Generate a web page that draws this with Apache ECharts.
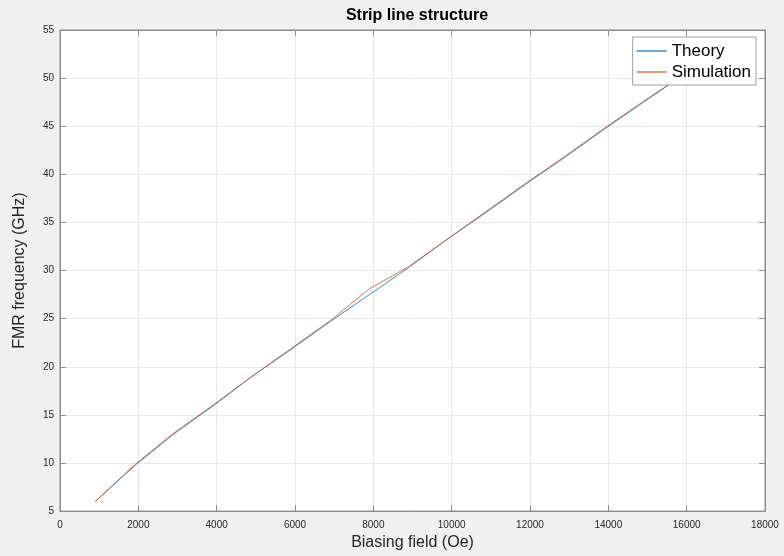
<!DOCTYPE html>
<html>
<head>
<meta charset="utf-8">
<script src="https://cdn.jsdelivr.net/npm/echarts@6/dist/echarts.min.js"></script>
<style>
html,body{margin:0;padding:0;background:#f0f0f0;}
#c{width:784px;height:556px;}
</style>
</head>
<body>
<div id="c"></div>
<script>
const fieldOe = [900, 1900, 2900, 3900, 4900, 5900, 6900, 7900, 8900, 9900, 10900, 11900, 12900, 13900, 14900, 15900];
const theoryGHz = [6.0, 9.7, 13.0, 15.9, 19.0, 21.8, 24.7, 27.5, 30.3, 33.3, 36.1, 39.0, 41.8, 44.7, 47.5, 50.3];
const simulationGHz = [6.0, 9.8, 13.1, 16.0, 19.0, 21.9, 24.8, 28.1, 30.4, 33.3, 36.2, 39.1, 41.9, 44.8, 47.6, 50.3];

const FONT = '"Liberation Sans", Arial, sans-serif';
const axisCol = '#8c8c8c';
const gridCol = '#e8e8e8';
const toPairs = (xs, ys) => xs.map((x, i) => [x, ys[i]]);

const chart = echarts.init(document.getElementById('c'), null, {renderer: 'canvas'});
function mkAxis(kind, pos, extra) {
  const isX = kind === 'x';
  return Object.assign({
    type: 'value',
    position: pos,
    min: isX ? 0 : 5, max: isX ? 18000 : 55, interval: isX ? 2000 : 5,
    axisLine: {show: true, onZero: false, lineStyle: {color: axisCol, width: 1}},
    axisTick: {show: true, inside: true, length: 6, lineStyle: {color: axisCol, width: 1}},
    splitLine: {show: false},
    axisLabel: {show: false}
  }, extra || {});
}
chart.setOption({
  backgroundColor: '#f0f0f0',
  animation: false,
  title: {
    text: 'Strip line structure', left: 412, top: 3, textAlign: 'center',
    textStyle: {fontFamily: FONT, fontSize: 16, fontWeight: 'bold', color: '#000'}
  },
  grid: {left: 60, right: 19, top: 30, bottom: 39, show: true, backgroundColor: '#fff', borderColor: axisCol, borderWidth: 1},
  legend: {
    orient: 'vertical', right: 28, top: 37,
    backgroundColor: '#fff', borderColor: '#a0a0a0', borderWidth: 1,
    padding: [4, 5, 3, 4], itemGap: 1, itemWidth: 30, itemHeight: 1.2,
    icon: 'rect',
    textStyle: {fontFamily: FONT, fontSize: 17, color: '#000', lineHeight: 20},
    data: ['Theory', 'Simulation']
  },
  xAxis: [
    mkAxis('x', 'bottom', {
      splitLine: {show: true, lineStyle: {color: gridCol, width: 1}},
      axisLabel: {show: true, color: '#262626', fontFamily: FONT, fontSize: 10, margin: 9, formatter: v => String(v)},
      name: 'Biasing field (Oe)', nameLocation: 'middle', nameGap: 23,
      nameTextStyle: {fontFamily: FONT, fontSize: 16, color: '#262626'}
    }),
    mkAxis('x', 'top')
  ],
  yAxis: [
    mkAxis('y', 'left', {
      splitLine: {show: true, lineStyle: {color: gridCol, width: 1}},
      axisLabel: {show: true, color: '#262626', fontFamily: FONT, fontSize: 10, margin: 6, formatter: v => String(v)},
      name: 'FMR frequency (GHz)', nameLocation: 'middle', nameGap: 32,
      nameTextStyle: {fontFamily: FONT, fontSize: 16, color: '#262626'}
    }),
    mkAxis('y', 'right')
  ],
  series: [
    {name: 'Theory', type: 'line', data: toPairs(fieldOe, theoryGHz), symbol: 'none', showSymbol: false,
      lineStyle: {color: '#0072BD', width: 0.8}, itemStyle: {color: '#0072BD'}},
    {name: 'Simulation', type: 'line', data: toPairs(fieldOe, simulationGHz), symbol: 'none', showSymbol: false,
      lineStyle: {color: '#D95319', width: 0.8}, itemStyle: {color: '#D95319'}}
  ]
});
</script>
</body>
</html>
